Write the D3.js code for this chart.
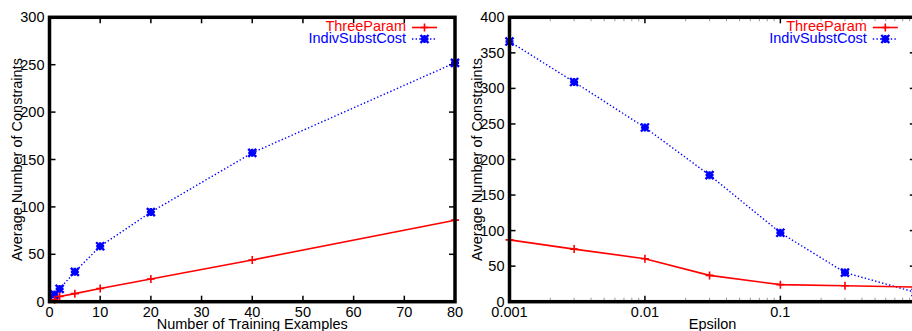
<!DOCTYPE html>
<html lang="en">
<head>
<meta charset="UTF-8">
<title>Average Number of Constraints</title>
<style>
* { margin: 0; padding: 0; }
body { background: #fff; width: 912px; height: 331px; overflow: hidden; }
svg { display: block; font-family: "Liberation Sans", Arial, sans-serif; }
</style>
</head>
<body>
<div id="chart"></div>
<script src="https://d3js.org/d3.v7.min.js"></script>
<script>
// left panel: constraints vs number of training examples
var trainX = [1, 2, 5, 10, 20, 40, 80];
var trainThree = [2, 5.5, 8.5, 14, 24, 44, 86];
var trainIndiv = [7.5, 13.5, 31.5, 58.5, 94.5, 157, 252];
var trainXTicks = [0, 10, 20, 30, 40, 50, 60, 70, 80];
var trainYTicks = [0, 50, 100, 150, 200, 250, 300];

// right panel: constraints vs epsilon (log x)
var epsX = [0.001, 0.003, 0.01, 0.03, 0.1, 0.3, 1];
var epsThree = [87, 74, 60.5, 37, 24, 22.5, 20.5];
var epsIndiv = [366, 309, 245, 178, 97, 41, 13];
var epsXTicks = [0.001, 0.01, 0.1, 1];
var epsXLabels = [0.001, 0.01, 0.1]; // the "1" label falls outside the picture
var epsYTicks = [0, 50, 100, 150, 200, 250, 300, 350, 400];

var seriesNames = ["ThreeParam", "IndivSubstCost"];
var RED = "#ff0000", BLUE = "#0000ff";

var W = 912, H = 331;
var FONT = 14.5;

var svg = d3.select("#chart").append("svg")
	.attr("width", W)
	.attr("height", H);

function drawMarker(g, kind, x, y, color) {
	var r = 4;
	var m = g.append("g").attr("stroke", color).attr("fill", "none");
	if (kind === "plus") {
		m.attr("stroke-width", 1.6);
		m.append("path").attr("d", "M" + (x - r) + "," + y + "H" + (x + r) + "M" + x + "," + (y - r) + "V" + (y + r));
	} else {
		m.attr("stroke-width", 2.4);
		m.append("path").attr("d",
			"M" + (x - r) + "," + y + "H" + (x + r) + "M" + x + "," + (y - r) + "V" + (y + r) +
			"M" + (x - r) + "," + (y - r) + "L" + (x + r) + "," + (y + r) +
			"M" + (x - r) + "," + (y + r) + "L" + (x + r) + "," + (y - r));
	}
}

function panel(opts) {
	var x = opts.xScale, y = opts.yScale;
	var x0 = x.range()[0], x1 = x.range()[1];
	var y0 = y.range()[0], y1 = y.range()[1];
	var g = svg.append("g");

	// minor log ticks (grey)
	if (opts.minor) {
		var minorG = g.append("g").attr("stroke", "#9a9a9a").attr("stroke-width", 1);
		opts.minor.forEach(function(v) {
			var px = x(v);
			minorG.append("line").attr("x1", px).attr("x2", px).attr("y1", y0).attr("y2", y0 - 4);
			minorG.append("line").attr("x1", px).attr("x2", px).attr("y1", y1).attr("y2", y1 + 4);
		});
	}

	// major ticks, inward on all four sides
	var tickG = g.append("g").attr("stroke", "#000").attr("stroke-width", 1.5);
	opts.xTicks.forEach(function(v) {
		var px = x(v);
		tickG.append("line").attr("x1", px).attr("x2", px).attr("y1", y0).attr("y2", y0 - 6);
		tickG.append("line").attr("x1", px).attr("x2", px).attr("y1", y1).attr("y2", y1 + 6);
	});
	opts.yTicks.forEach(function(v) {
		var py = y(v);
		tickG.append("line").attr("x1", x0).attr("x2", x0 + 6).attr("y1", py).attr("y2", py);
		tickG.append("line").attr("x1", x1).attr("x2", x1 - 6).attr("y1", py).attr("y2", py);
	});

	// tick labels
	var lab = g.append("g").attr("font-size", FONT).attr("fill", "#000");
	opts.yTicks.forEach(function(v) {
		lab.append("text")
			.attr("x", x0 - 5).attr("y", y(v))
			.attr("text-anchor", "end").attr("dominant-baseline", "central")
			.text(v);
	});
	(opts.xLabels || opts.xTicks).forEach(function(v) {
		lab.append("text")
			.attr("x", x(v)).attr("y", y0 + 10)
			.attr("text-anchor", "middle").attr("dominant-baseline", "central")
			.text(opts.xFormat ? opts.xFormat(v) : v);
	});

	// axis titles
	lab.append("text")
		.attr("x", (x0 + x1) / 2).attr("y", y0 + 22)
		.attr("text-anchor", "middle").attr("dominant-baseline", "central")
		.text(opts.xTitle);
	lab.append("text")
		.attr("transform", "translate(" + opts.yTitleX + "," + ((y0 + y1) / 2) + ") rotate(-90)")
		.attr("text-anchor", "middle").attr("dominant-baseline", "central")
		.text("Average Number of Constraints");

	// series
	var line = d3.line()
		.x(function(d) { return x(d[0]); })
		.y(function(d) { return y(d[1]); });
	var threePts = opts.xs.map(function(v, i) { return [v, opts.three[i]]; });
	var indivPts = opts.xs.map(function(v, i) { return [v, opts.indiv[i]]; });

	g.append("path").datum(indivPts).attr("d", line)
		.attr("fill", "none").attr("stroke", BLUE).attr("stroke-width", 1.4)
		.attr("stroke-dasharray", "1.4,2.2");
	g.append("path").datum(threePts).attr("d", line)
		.attr("fill", "none").attr("stroke", RED).attr("stroke-width", 1.6);
	indivPts.forEach(function(p) { drawMarker(g, "star", x(p[0]), y(p[1]), BLUE); });
	threePts.forEach(function(p) { drawMarker(g, "plus", x(p[0]), y(p[1]), RED); });

	// frame
	g.append("rect")
		.attr("x", x0).attr("y", y1)
		.attr("width", x1 - x0).attr("height", y0 - y1)
		.attr("fill", "none").attr("stroke", "#000").attr("stroke-width", 3.5);

	// legend
	var legX = x1 - 43, legW = 25;
	var leg = g.append("g").attr("font-size", FONT);
	[{ name: seriesNames[0], color: RED, kind: "plus", dash: null, yy: 26 },
	 { name: seriesNames[1], color: BLUE, kind: "star", dash: "1.4,2.2", yy: 37.5 }].forEach(function(it) {
		leg.append("text")
			.attr("x", legX - 6).attr("y", it.yy)
			.attr("text-anchor", "end").attr("dominant-baseline", "central")
			.attr("fill", it.color)
			.text(it.name);
		leg.append("line")
			.attr("x1", legX).attr("x2", legX + legW)
			.attr("y1", it.yy + 1.5).attr("y2", it.yy + 1.5)
			.attr("stroke", it.color).attr("stroke-width", 1.6)
			.attr("stroke-dasharray", it.dash);
		drawMarker(leg, it.kind, legX + legW / 2, it.yy + 1.5, it.color);
	});
}

panel({
	xScale: d3.scaleLinear().domain([0, 80]).range([49.5, 455]),
	yScale: d3.scaleLinear().domain([0, 300]).range([301.7, 17.3]),
	xTicks: trainXTicks,
	yTicks: trainYTicks,
	xs: trainX, three: trainThree, indiv: trainIndiv,
	xTitle: "Number of Training Examples",
	yTitleX: 17
});

var minorEps = [];
[0.001, 0.01, 0.1].forEach(function(d) {
	for (var k = 2; k <= 9; k++) minorEps.push(d * k);
});

panel({
	xScale: d3.scaleLog().domain([0.001, 1]).range([509.5, 915.8]),
	yScale: d3.scaleLinear().domain([0, 400]).range([301.7, 17.3]),
	xTicks: epsXTicks,
	xLabels: epsXLabels,
	yTicks: epsYTicks,
	minor: minorEps,
	xFormat: function(v) { return String(v); },
	xs: epsX, three: epsThree, indiv: epsIndiv,
	xTitle: "Epsilon",
	yTitleX: 477
});
</script>
</body>
</html>
